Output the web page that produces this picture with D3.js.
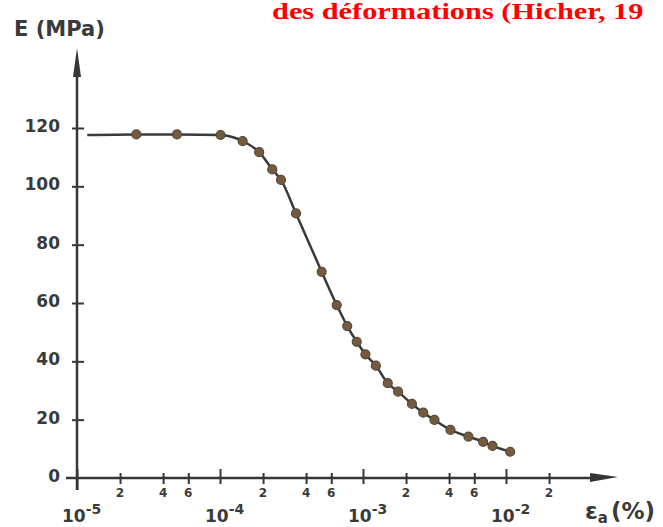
<!DOCTYPE html>
<html>
<head>
<meta charset="utf-8">
<script src="https://cdn.jsdelivr.net/npm/d3@7"></script>
<style>
  html, body { margin: 0; padding: 0; background: #fff; }
  svg { display: block; }
  .hand { font-family: "DejaVu Sans", sans-serif; font-weight: 700; fill: #3a3a3a; }
</style>
</head>
<body>
<div id="chart"></div>
<script>
const strain = [
  2.6e-5, 5.0e-5, 1.01e-4, 1.44e-4, 1.88e-4, 2.32e-4, 2.67e-4, 3.4e-4,
  5.14e-4, 6.55e-4, 7.76e-4, 9.04e-4, 1.04e-3, 1.23e-3, 1.49e-3, 1.76e-3,
  2.2e-3, 2.64e-3, 3.16e-3, 4.09e-3, 5.46e-3, 6.92e-3, 8.05e-3, 1.07e-2,
];
// secant modulus E (MPa)
const modulus = [
  117.8, 117.8, 117.6, 115.5, 111.7, 105.8, 102.2, 90.7,
  70.7, 59.3, 52.1, 46.7, 42.4, 38.5, 32.5, 29.6,
  25.4, 22.4, 19.9, 16.5, 14.2, 12.4, 11.0, 9.0,
];
// the drawn curve starts a little right of the axis, without a marker
const curveStart = { strain: 1.18e-5, modulus: 117.6 };

const yTicks = [0, 20, 40, 60, 80, 100, 120];
const yTickLabels = ["0", "20", "40", "60", "80", "100", "120"];
const decadeTicks = [1e-5, 1e-4, 1e-3, 1e-2];
const decadeExponents = ["-5", "-4", "-3", "-2"];
const minorTicks = [2e-5, 4e-5, 6e-5, 2e-4, 4e-4, 6e-4, 2e-3, 4e-3, 6e-3, 2e-2];
const minorLabels = ["2", "4", "6", "2", "4", "6", "2", "4", "6", "2"];

const title = "des déformations (Hicher, 19";
const yTitle = "E (MPa)";

const width = 663;
const height = 527;

const x = d3.scaleLog([1e-5, 1e-2], [77, 506]);
const y = d3.scaleLinear([0, 120], [478, 128]);

const svg = d3
  .select("#chart")
  .append("svg")
  .attr("width", width)
  .attr("height", height)
  .attr("viewBox", `0 0 ${width} ${height}`);

const ink = "#363636";

// red heading; the source type is stretched sideways
svg
  .append("text")
  .attr("transform", "translate(272,19) scale(1.32,1)")
  .attr("font-family", "Liberation Serif, Times New Roman, serif")
  .attr("font-weight", "bold")
  .attr("font-size", 23)
  .attr("fill", "#ff0000")
  .text(title);

// ---- y axis ----
svg
  .append("line")
  .attr("x1", x(1e-5))
  .attr("x2", x(1e-5))
  .attr("y1", 490)
  .attr("y2", 70)
  .attr("stroke", ink)
  .attr("stroke-width", 2.5);
svg
  .append("path")
  .attr("d", `M${x(1e-5)},48 L${x(1e-5) - 4},77 L${x(1e-5) + 4},77 Z`)
  .attr("fill", ink);

const leftAxis = d3
  .axisLeft(y)
  .tickValues(yTicks)
  .tickSize(0)
  .tickPadding(17)
  .tickFormat((d, i) => yTickLabels[i]);

const gy = svg
  .append("g")
  .attr("transform", `translate(${x(1e-5)},0)`)
  .call(leftAxis);
gy.select(".domain").remove();
gy.selectAll(".tick line")
  .attr("x1", -5)
  .attr("x2", 7)
  .attr("stroke", ink)
  .attr("stroke-width", 2);
gy.selectAll(".tick text")
  .attr("class", "hand")
  .attr("font-size", 17)
  .attr("dy", "0.2em");
gy.selectAll(".tick").filter((d) => d === 0).select("line").remove();

svg
  .append("text")
  .attr("class", "hand")
  .attr("x", 14)
  .attr("y", 36)
  .attr("font-size", 21)
  .text(yTitle);

// ---- x axis ----
svg
  .append("line")
  .attr("x1", 66)
  .attr("x2", 595)
  .attr("y1", y(0))
  .attr("y2", y(0))
  .attr("stroke", ink)
  .attr("stroke-width", 2.5);
svg
  .append("path")
  .attr("d", `M618,${y(0) - 1} L590,${y(0) - 5} L590,${y(0) + 4} Z`)
  .attr("fill", ink);

const bottomAxis = d3
  .axisBottom(x)
  .tickValues(decadeTicks.concat(minorTicks))
  .tickSize(0)
  .tickFormat("");

const gx = svg
  .append("g")
  .attr("transform", `translate(0,${y(0)})`)
  .call(bottomAxis);
gx.select(".domain").remove();
gx.selectAll(".tick line")
  .attr("y1", (d) => (decadeTicks.includes(d) ? -9 : -5))
  .attr("y2", (d) => (d === 1e-5 ? 12 : 6))
  .attr("stroke", ink)
  .attr("stroke-width", 2);

svg
  .append("g")
  .selectAll("text")
  .data(minorTicks)
  .join("text")
  .attr("class", "hand")
  .attr("x", (d) => x(d))
  .attr("y", 497)
  .attr("text-anchor", "middle")
  .attr("font-size", 12)
  .text((d, i) => minorLabels[i]);

const decadeLabels = svg
  .append("g")
  .selectAll("text")
  .data(decadeTicks)
  .join("text")
  .attr("class", "hand")
  .attr("x", (d) => x(d) - 15)
  .attr("y", 522)
  .attr("font-size", 17);
decadeLabels.append("tspan").text("10");
decadeLabels
  .append("tspan")
  .attr("dy", -8)
  .attr("font-size", 14)
  .text((d, i) => decadeExponents[i]);

const xTitle = svg
  .append("text")
  .attr("class", "hand")
  .attr("x", 585)
  .attr("y", 519)
  .attr("font-size", 23);
xTitle.append("tspan").text("ε");
xTitle.append("tspan").attr("dy", 4).attr("font-size", 15).text("a");
xTitle.append("tspan").attr("dy", -4).attr("dx", 3).text("(%)");

// ---- curve and points ----
const points = strain.map((s, i) => ({ strain: s, modulus: modulus[i] }));
const line = d3
  .line()
  .x((d) => x(d.strain))
  .y((d) => y(d.modulus))
  .curve(d3.curveMonotoneX);

svg
  .append("path")
  .datum([curveStart].concat(points))
  .attr("d", line)
  .attr("fill", "none")
  .attr("stroke", "#3a3a3a")
  .attr("stroke-width", 2.5);

svg
  .append("g")
  .selectAll("circle")
  .data(points)
  .join("circle")
  .attr("cx", (d) => x(d.strain))
  .attr("cy", (d) => y(d.modulus))
  .attr("r", 4.5)
  .attr("fill", "#775a3e")
  .attr("stroke", "#4f4a3a")
  .attr("stroke-width", 1.2);
</script>
</body>
</html>
